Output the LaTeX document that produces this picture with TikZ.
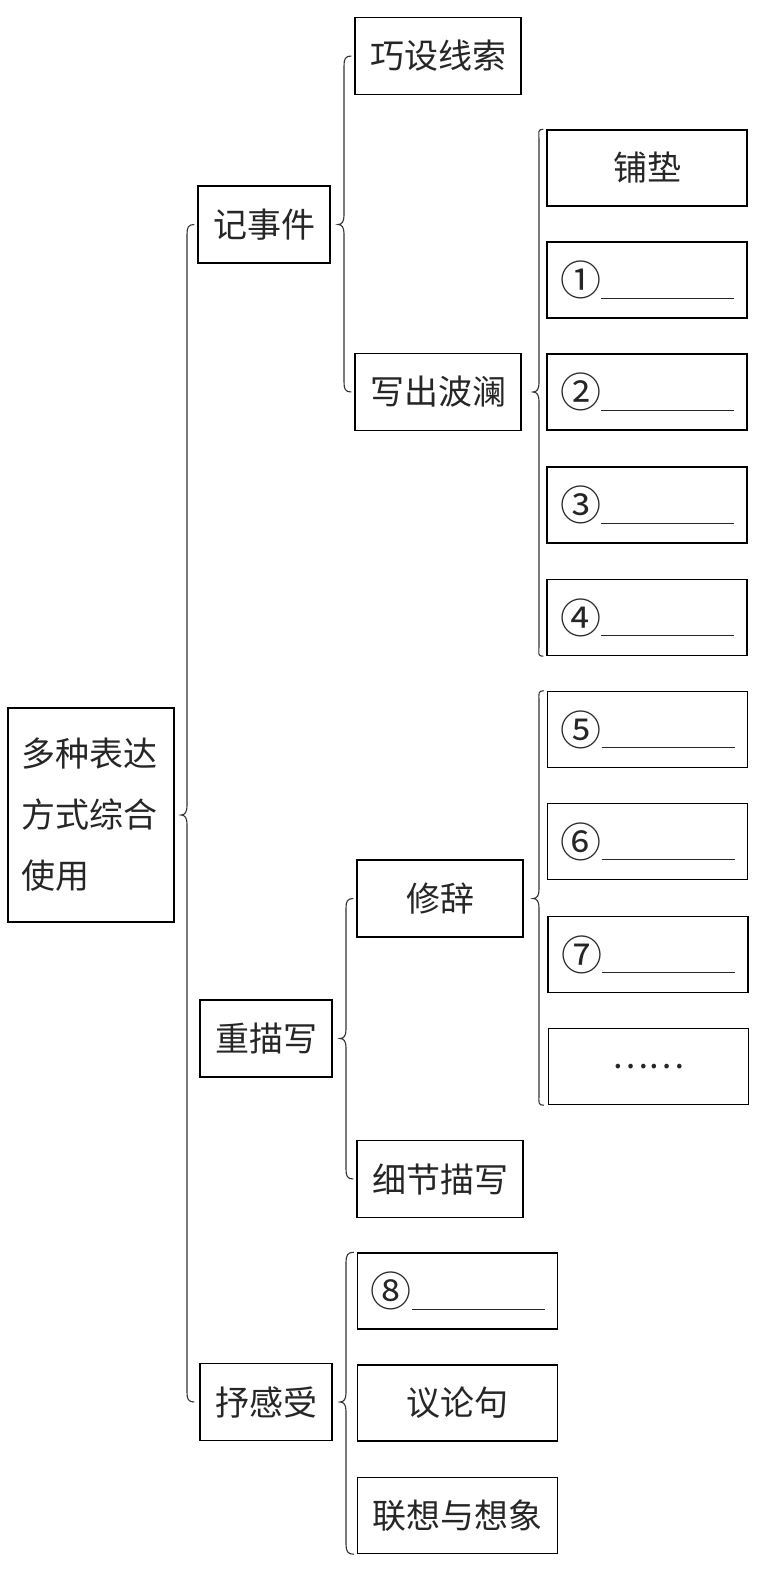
\documentclass[tikz,border=0pt]{standalone}
\usepackage{fontspec}
\newfontfamily\cjk{Noto Sans CJK SC}
\usetikzlibrary{calc}
\tikzset{
  box/.style={draw, line width=1.5pt, inner sep=0pt, font=\cjk\fontsize{34}{40}\selectfont, text=black!85},
  lvA/.style={box, minimum width=132pt, minimum height=77pt},
  lvB/.style={box, minimum width=166pt, minimum height=77pt},
  lvC/.style={box, minimum width=200pt, minimum height=76pt},
  blankbox/.style={lvC, align=left, text width=174pt},
  brc/.style={line width=1.1pt, black!80},
}
\newcommand{\blank}[1]{{\fontsize{41}{40}\selectfont #1}\rule[-3pt]{133pt}{0.8pt}}
% #1 line x (pt), #2 top point, #3 tip point (parent east), #4 bottom point
\newcommand{\mybrace}[4]{%
\draw[brc] let \p1=#2, \p2=#3, \p3=#4 in
 (\x1-3pt,\y1) .. controls (\x1-9pt,\y1) and (#1,\y1-3pt) .. (#1,\y1-10pt)
 -- (#1,\y2+9pt) .. controls (#1,\y2+3pt) and (#1-2pt,\y2) .. (#1-6pt,\y2)
 .. controls (#1-2pt,\y2) and (#1,\y2-3pt) .. (#1,\y2-9pt)
 -- (#1,\y3+10pt) .. controls (#1,\y3+3pt) and (\x1-9pt,\y3) .. (\x1-3pt,\y3);}
\begin{document}
\begin{tikzpicture}[x=1pt,y=-1pt]
\useasboundingbox (0,0) rectangle (764,1569);
\node[box, minimum width=166pt, minimum height=214pt, text width=140pt, align=left, font=\cjk\fontsize{34}{61}\selectfont] (root) at (91,815) {多种表达\\方式综合\\使用};
\node[lvA] (jsj) at (264,224.5) {记事件};
\node[lvA] (cmx) at (266,1038.5) {重描写};
\node[lvA] (sgs) at (266,1402) {抒感受};
\node[lvB] (qsxs) at (438,56) {巧设线索};
\node[lvB] (xcbl) at (438,392) {写出波澜};
\node[lvB] (xc) at (440,898.5) {修辞};
\node[lvB] (xjms) at (440,1179) {细节描写};
\node[lvC] (pd) at (647,168) {铺垫};
\node[blankbox] (b1) at (647,280) {\blank{①}};
\node[blankbox] (b2) at (647,392) {\blank{②}};
\node[blankbox] (b3) at (647,505) {\blank{③}};
\node[blankbox] (b4) at (647,617.5) {\blank{④}};
\node[blankbox] (b5) at (647.5,729.5) {\blank{⑤}};
\node[blankbox] (b6) at (647.5,841.5) {\blank{⑥}};
\node[blankbox] (b7) at (648,954.5) {\blank{⑦}};
\node[lvC] (dots) at (648.5,1066.5) {……};
\node[blankbox] (b8) at (457.5,1291) {\blank{⑧}};
\node[lvC] (yl) at (457.5,1403) {议论句};
\node[lvC] (lx) at (457.5,1515.5) {联想与想象};
\mybrace{187pt}{(jsj.west)}{(root.east)}{(sgs.west)}
\mybrace{344pt}{(qsxs.west)}{(jsj.east)}{(xcbl.west)}
\mybrace{539pt}{(pd.north west)}{(xcbl.east)}{(b4.south west)}
\mybrace{539pt}{(b5.north west)}{(xc.east)}{(dots.south west)}
\mybrace{346pt}{(xc.west)}{(cmx.east)}{(xjms.west)}
\mybrace{346pt}{(b8.north west)}{(sgs.east)}{(lx.south west)}
\end{tikzpicture}
\end{document}
